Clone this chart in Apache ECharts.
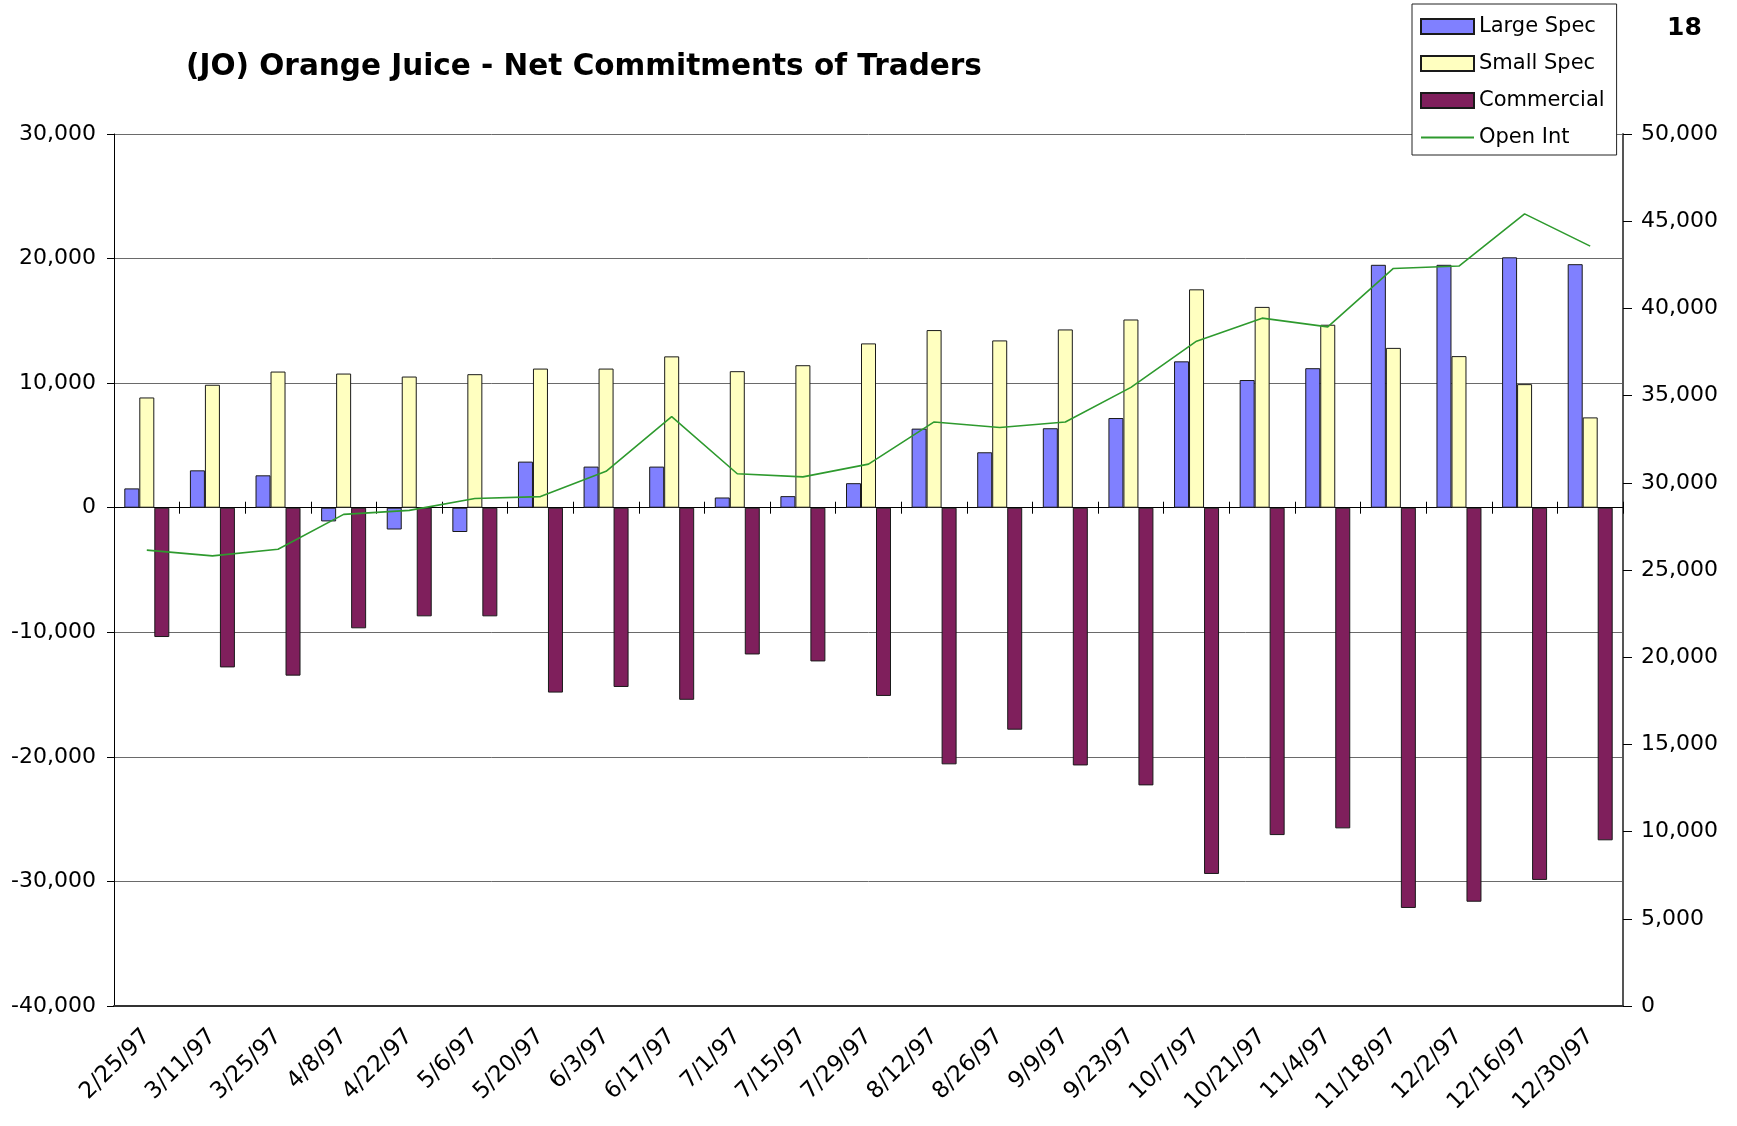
<!DOCTYPE html>
<html>
<head>
<meta charset="utf-8">
<script src="https://cdn.jsdelivr.net/npm/echarts@6/dist/echarts.min.js"></script>
<style>
html,body{margin:0;padding:0;background:#fff;}
#chart{width:1737px;height:1126px;}
</style>
</head>
<body>
<div id="chart"></div>
<script>
const categories = ['2/25/97','3/11/97','3/25/97','4/8/97','4/22/97','5/6/97','5/20/97','6/3/97','6/17/97','7/1/97','7/15/97','7/29/97','8/12/97','8/26/97','9/9/97','9/23/97','10/7/97','10/21/97','11/4/97','11/18/97','12/2/97','12/16/97','12/30/97'];
const largeSpec = [1550, 3000, 2600, -1100, -1750, -1950, 3700, 3300, 3300, 820, 930, 1970, 6350, 4450, 6380, 7200, 11750, 10250, 11200, 19500, 19500, 20100, 19550];
const smallSpec = [8850, 9870, 10930, 10770, 10530, 10720, 11170, 11170, 12150, 10960, 11440, 13190, 14260, 13430, 14310, 15110, 17530, 16120, 14690, 12830, 12170, 9920, 7250];
const commercial = [-10380, -12820, -13480, -9680, -8720, -8720, -14840, -14390, -15420, -11780, -12340, -15110, -20600, -17820, -20690, -22290, -29400, -26280, -25740, -32130, -31630, -29880, -26700];
const openInt = [26140, 25810, 26190, 28190, 28420, 29100, 29210, 30660, 33790, 30520, 30340, 31070, 33490, 33170, 33490, 35470, 38120, 39440, 38940, 42290, 42430, 45420, 43570];
const titleText = '(JO) Orange Juice - Net Commitments of Traders';
const pageNumber = '18';

const FONT = 'DejaVu Sans';
function fmt(v){ return Number(v).toLocaleString('en-US'); }

const chart = echarts.init(document.getElementById('chart'), null, {renderer:'canvas'});
const barBorder = {borderColor:'#1a1a1a', borderWidth:1};
chart.setOption({
  animation:false,
  backgroundColor:'#ffffff',
  title:{
    text:titleText, left:181, top:47,
    textStyle:{fontFamily:FONT, fontWeight:'bold', fontSize:29.5, color:'#000'}
  },
  graphic:[{
    type:'text', left:1667, top:16,
    style:{text:pageNumber, font:'bold 25px "DejaVu Sans"', fill:'#000'}
  }],
  legend:{
    orient:'vertical', left:1412, top:4,
    backgroundColor:'#fff', borderColor:'#222', borderWidth:1,
    padding:[12,12,7,8], itemGap:16, itemWidth:53, itemHeight:15,
    textStyle:{fontFamily:FONT, fontSize:21, color:'#000'},
    data:[
      {name:'Large Spec', icon:'rect'},
      {name:'Small Spec', icon:'rect'},
      {name:'Commercial', icon:'rect'},
      {name:'Open Int', itemStyle:{opacity:0}}
    ]
  },
  grid:{left:114, right:114, top:134, bottom:120, containLabel:false},
  xAxis:[
    {type:'category', data:categories, position:'bottom',
     axisLine:{onZero:true, onZeroAxisIndex:0, lineStyle:{color:'#000', width:1}},
     axisTick:{show:true, length:6, lineStyle:{color:'#000'}},
     axisLabel:{show:false}, splitLine:{show:false}},
    {type:'category', data:categories, position:'bottom',
     axisLine:{onZero:false, lineStyle:{color:'#333', width:2}},
     axisTick:{show:false},
     axisLabel:{show:true, interval:0, rotate:45, margin:27, fontFamily:FONT, fontSize:23, color:'#000'},
     splitLine:{show:false}},
    {type:'category', data:categories, position:'bottom',
     axisLine:{show:false, onZero:true, onZeroAxisIndex:0},
     axisTick:{show:true, inside:true, length:6, lineStyle:{color:'#000'}},
     axisLabel:{show:false}, splitLine:{show:false}}
  ],
  yAxis:[
    {type:'value', min:-40000, max:30000, interval:10000, position:'left',
     axisLine:{show:true, lineStyle:{color:'#000', width:1}},
     axisTick:{show:true, length:7, lineStyle:{color:'#000'}},
     axisLabel:{margin:18, fontFamily:FONT, fontSize:22, color:'#000', formatter:fmt},
     splitLine:{show:true, lineStyle:{color:'#6a6a6a', width:1}}},
    {type:'value', min:0, max:50000, interval:5000, position:'right',
     axisLine:{show:true, lineStyle:{color:'#555', width:2}},
     axisTick:{show:true, length:9, lineStyle:{color:'#000'}},
     axisLabel:{margin:18, fontFamily:FONT, fontSize:22, color:'#000', formatter:fmt},
     splitLine:{show:false}}
  ],
  series:[
    {name:'Large Spec', type:'bar', xAxisIndex:0, yAxisIndex:0, data:largeSpec,
     barWidth:15, barGap:'0%', itemStyle:Object.assign({color:'#8080ff'}, barBorder)},
    {name:'Small Spec', type:'bar', xAxisIndex:0, yAxisIndex:0, data:smallSpec,
     barWidth:15, barGap:'0%', itemStyle:Object.assign({color:'#ffffc0'}, barBorder)},
    {name:'Commercial', type:'bar', xAxisIndex:0, yAxisIndex:0, data:commercial,
     barWidth:15, barGap:'0%', itemStyle:Object.assign({color:'#7f1f5c'}, barBorder)},
    {name:'Open Int', type:'line', xAxisIndex:0, yAxisIndex:1, data:openInt,
     symbol:'none', showSymbol:false, lineStyle:{color:'#2e9a2e', width:1.6}, itemStyle:{color:'#2e9a2e'}, z:5}
  ]
});
</script>
</body>
</html>
